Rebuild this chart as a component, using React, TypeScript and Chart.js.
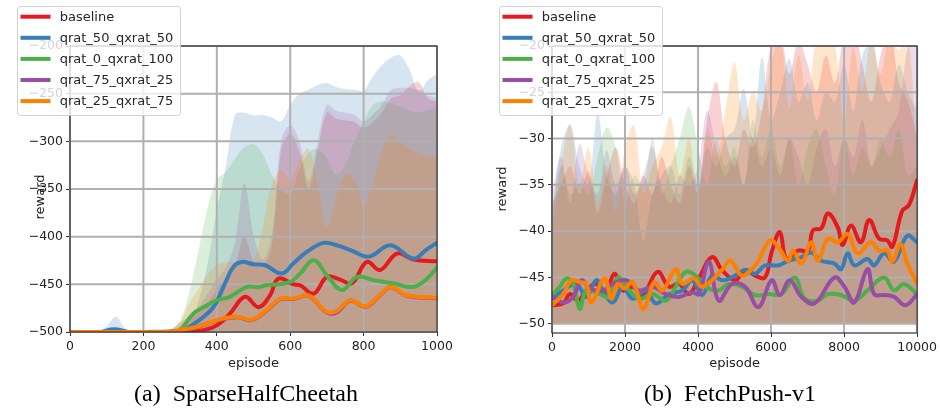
import React, { useEffect, useRef } from 'react';
import { Chart, registerables } from 'chart.js';
Chart.register(...registerables);

// ---------- shared ----------
const SERIES_NAMES = ['baseline', 'qrat_50_qxrat_50', 'qrat_0_qxrat_100', 'qrat_75_qxrat_25', 'qrat_25_qxrat_75'];
const COLORS = ['#e41a1c', '#377eb8', '#4daf4a', '#984ea3', '#ff7f00'];
const BAND_RGB = ['228,26,28', '55,126,184', '77,175,74', '152,78,163', '255,127,0'];

// ---------- (a) SparseHalfCheetah ----------
const A_X_TICKS = [0, 200, 400, 600, 800, 1000];
const A_Y_TICKS = [-500, -450, -400, -350, -300, -250, -200];

const A_BASELINE_X = [0, 100, 200, 300, 364, 400, 436, 477, 514, 545, 568, 609, 627, 664, 700, 736, 768, 809, 845, 891, 936, 1000];
const A_BASELINE_Y = [-500, -500, -500, -500, -498, -493, -480.7, -463, -474, -461.5, -444, -450, -451, -459.7, -442.2, -445, -449, -426.5, -435, -417.7, -424, -425.8];
const A_Q50_X = [0, 80, 120, 160, 200, 300, 345, 391, 418, 445, 468, 500, 532, 577, 609, 645, 691, 727, 764, 814, 873, 936, 973, 1000];
const A_Q50_Y = [-500, -500, -497, -500, -500, -499, -489.5, -473.7, -452.7, -431.7, -426.5, -429, -430, -438.7, -428, -416, -406.5, -409, -414, -421, -409, -423, -413, -406.5];
const A_Q0_X = [0, 100, 200, 282, 300, 336, 364, 400, 436, 482, 509, 536, 600, 627, 664, 700, 741, 782, 827, 882, 936, 973, 1000];
const A_Q0_Y = [-500, -500, -500, -500, -498, -480.7, -474, -466.7, -463, -452.7, -453, -451, -447.5, -438.7, -424.7, -440.5, -456, -442.2, -445.7, -449, -452.7, -444, -432.4];
const A_Q75_X = [0, 100, 200, 273, 300, 345, 400, 427, 459, 495, 536, 573, 609, 650, 700, 727, 764, 805, 845, 873, 918, 1000];
const A_Q75_Y = [-500, -500, -500, -500, -499, -495, -488, -485.5, -484.5, -487.5, -477.5, -465.5, -465.5, -462, -479.5, -479.5, -467, -473.5, -461.5, -453, -462, -464.5];
const A_Q25_X = [0, 100, 200, 273, 300, 345, 400, 427, 459, 495, 536, 573, 609, 650, 700, 727, 764, 805, 845, 873, 918, 1000];
const A_Q25_Y = [-500, -500, -500, -500, -498, -494.7, -487.7, -485, -484.2, -487, -477, -465, -465, -461.5, -479, -478, -466.7, -473, -461, -452.7, -461.5, -464];

const A_BAND_X = [0, 25, 50, 75, 100, 125, 150, 175, 200, 225, 250, 275, 300, 325, 350, 375, 400, 425, 450, 475, 500, 525, 550, 575, 600, 625, 650, 675, 700, 725, 750, 775, 800, 825, 850, 875, 900, 925, 950, 975, 1000];
const A_BASELINE_UP = [-500, -500, -500, -500, -500, -500, -500, -500, -500, -500, -500, -497, -490, -484, -480, -470, -455, -445, -430, -400, -425, -430, -410, -310, -292, -310, -350, -310, -270, -276, -278, -280, -286, -280, -270, -255, -252, -242, -238, -255, -258];
const A_Q50_UP = [-500, -500, -500, -500, -494, -484, -496, -500, -500, -500, -500, -500, -498, -490, -468, -428, -372, -325, -272, -270, -273, -272, -275, -279, -262, -250, -246, -241, -239, -243, -245, -246, -247, -232, -220, -212, -210, -225, -248, -236, -229];
const A_Q0_UP = [-500, -500, -500, -500, -500, -500, -500, -500, -500, -500, -500, -498, -488, -458, -415, -370, -340, -332, -318, -306, -303, -313, -335, -350, -355, -330, -312, -308, -318, -335, -325, -300, -280, -262, -258, -260, -264, -268, -270, -267, -265];
const A_Q75_UP = [-500, -500, -500, -500, -500, -500, -500, -500, -500, -500, -500, -499, -494, -486, -474, -460, -445, -432, -405, -344, -398, -424, -398, -300, -283, -300, -342, -300, -262, -268, -270, -272, -279, -272, -262, -246, -244, -244, -246, -252, -254];
const A_Q25_UP = [-500, -500, -500, -500, -500, -500, -500, -500, -500, -500, -500, -498, -490, -470, -455, -440, -430, -427, -427, -428, -425, -390, -345, -330, -340, -320, -308, -345, -390, -360, -335, -340, -365, -345, -310, -293, -300, -308, -312, -315, -316];

// ---------- (b) FetchPush-v1 ----------
const B_X_TICKS = [0, 2000, 4000, 6000, 8000, 10000];
const B_Y_TICKS = [-50, -45, -40, -35, -30, -25, -20];

const B_BASELINE_X = [0, 308, 489, 716, 942, 1214, 1440, 1712, 1938, 2210, 2482, 2890, 3206, 3478, 3750, 4022, 4384, 4656, 5018, 5290, 5562, 5833, 6015, 6241, 6422, 6739, 7011, 7147, 7373, 7555, 7827, 7962, 8188, 8460, 8687, 8958, 9185, 9321, 9593, 9774, 10000];
const B_BASELINE_Y = [-48.0, -47.8, -46.8, -47.5, -46.4, -45.7, -46.9, -44.6, -46.4, -46.0, -46.9, -44.4, -46.0, -45.7, -46.8, -45.1, -42.8, -44.2, -45.3, -44.2, -44.8, -45.0, -42.3, -40.1, -43.0, -42.1, -42.1, -39.9, -39.7, -38.1, -39.6, -41.5, -39.4, -41.2, -38.8, -40.8, -41.0, -41.7, -37.8, -37.2, -34.5];
const B_Q50_X = [0, 308, 670, 942, 1214, 1395, 1667, 1938, 2210, 2572, 2844, 3206, 3569, 3841, 4112, 4384, 4656, 4928, 5290, 5562, 5833, 6196, 6467, 6830, 7102, 7373, 7736, 7917, 8098, 8279, 8641, 8822, 9094, 9366, 9728, 10000];
const B_Q50_Y = [-47.3, -46.4, -45.7, -47.1, -45.3, -46.4, -47.7, -46.0, -47.3, -46.4, -47.8, -46.8, -46.4, -45.3, -46.9, -44.8, -45.3, -45.0, -44.2, -44.6, -43.7, -43.7, -43.2, -42.8, -42.3, -43.2, -43.5, -44.1, -42.4, -43.7, -43.0, -43.7, -42.4, -43.3, -40.5, -41.2];
const B_Q0_X = [0, 217, 399, 580, 761, 942, 1304, 1576, 1803, 2120, 2391, 2754, 3116, 3388, 3659, 3931, 4203, 4565, 4837, 5199, 5562, 5924, 6286, 6649, 6920, 7283, 7555, 7917, 8279, 8641, 9094, 9366, 9638, 10000];
const B_Q0_Y = [-46.9, -46.0, -45.1, -45.7, -48.4, -46.4, -46.8, -47.1, -45.0, -46.4, -47.3, -46.8, -47.5, -46.0, -44.4, -44.8, -46.0, -46.4, -45.7, -46.0, -46.9, -46.8, -46.8, -45.0, -47.3, -47.5, -46.8, -46.9, -47.5, -46.4, -45.0, -46.4, -45.7, -46.8];
const B_Q75_X = [0, 308, 580, 806, 1033, 1395, 1667, 2029, 2391, 2754, 3116, 3478, 3841, 4022, 4293, 4565, 4928, 5290, 5652, 6015, 6241, 6513, 6830, 7192, 7736, 8007, 8279, 8641, 8822, 9094, 9366, 9683, 10000];
const B_Q75_Y = [-47.1, -47.7, -47.1, -45.3, -46.2, -46.4, -45.7, -45.3, -46.4, -46.0, -46.8, -47.1, -46.6, -46.8, -43.3, -47.5, -45.7, -46.0, -48.2, -45.3, -46.9, -45.3, -47.1, -47.8, -45.0, -46.0, -47.7, -44.1, -46.8, -46.9, -47.1, -48.0, -46.8];
const B_Q25_X = [0, 308, 534, 761, 942, 1078, 1440, 1621, 1803, 1984, 2210, 2482, 2618, 2799, 3025, 3388, 3569, 3886, 4112, 4656, 4882, 5199, 5471, 5652, 5969, 6196, 6467, 6603, 6830, 7102, 7283, 7555, 7827, 8098, 8370, 8732, 8958, 9185, 9321, 9547, 9728, 10000];
const B_Q25_Y = [-48.0, -46.8, -45.3, -45.5, -45.7, -47.7, -45.1, -47.3, -45.7, -46.2, -45.5, -48.4, -47.5, -45.5, -46.4, -44.1, -45.7, -45.1, -46.0, -44.2, -43.2, -44.8, -44.1, -43.2, -41.0, -41.7, -43.2, -42.1, -43.5, -41.2, -43.2, -40.8, -41.2, -40.3, -42.4, -41.2, -42.1, -42.1, -43.3, -41.4, -43.5, -45.7];

const B_BAND_X = [0, 250, 500, 750, 1000, 1250, 1500, 1750, 2000, 2250, 2500, 2750, 3000, 3250, 3500, 3750, 4000, 4250, 4500, 4750, 5000, 5250, 5500, 5750, 6000, 6250, 6500, 6750, 7000, 7250, 7500, 7750, 8000, 8250, 8500, 8750, 9000, 9250, 9500, 9750, 10000];
const B_BASELINE_UP = [-37, -35, -33, -36, -33.5, -38, -34, -31, -35, -37, -34, -36, -32, -35, -37, -33, -36, -28, -23.9, -30, -33, -29, -31, -27, -20, -19, -23, -19.5, -22, -25, -21, -24, -19, -18, -22, -26, -21, -18, -24, -26, -30];
const B_Q50_UP = [-38, -31, -28.5, -33, -35, -27.3, -34, -36, -33, -35, -41, -36, -34, -33, -36, -32, -35, -31, -33, -30, -29, -24.6, -30, -21.2, -28, -25, -21.4, -26, -24, -28, -25, -26, -22, -27, -21, -19.5, -24, -26, -22, -25, -27];
const B_Q0_UP = [-39, -33, -36, -35, -36, -32, -28.8, -31, -37, -34, -35, -30, -36, -33, -30, -26.6, -31, -35, -30, -33, -31, -35, -28, -32, -29, -33, -30, -35, -31, -29, -33, -36, -30, -34, -31, -33, -30, -32, -29, -34, -33];
const B_Q75_UP = [-36, -32, -37, -30.6, -34, -36, -31.3, -35, -33, -36, -34, -30.9, -35, -37, -34, -35, -33, -27, -31, -34, -32, -35, -30, -33, -31, -34, -30, -32, -35, -31, -29, -33, -30, -32, -28, -33, -31, -29, -27, -20, -19];
const B_Q25_UP = [-40, -33, -28.5, -35, -31, -37, -33, -38, -31, -28.6, -36, -33, -31, -27.7, -34, -30, -36, -29, -32, -27, -21.8, -28, -25, -27, -22, -19, -26.6, -21, -25.9, -19, -18, -20, -28, -20, -24.8, -19, -23, -19, -20.5, -19, -33];

const FONT = '"DejaVu Sans", sans-serif';
const fmt = (v: number) => (v < 0 ? '\u2212' + Math.abs(v) : String(v));
const zip = (xs: number[], ys: number[]) => xs.map((x, i) => ({ x, y: ys[i] }));

interface PanelCfg {
  meanX: number[][];
  meanY: number[][];
  bandX: number[];
  bandUp: number[][];
  lower: number;
  xMin: number; xMax: number; xStep: number;
  yMin: number; yMax: number; yStep: number;
  padRight: number;
  yAxisW: number;
  xAxisH: number;
  legendX: number;
  rewardX: number;
  rewardY: number;
}

function makeConfig(c: PanelCfg): any {
  const datasets: any[] = [];
  for (let i = 0; i < 5; i++) {
    datasets.push({
      data: zip(c.bandX, c.bandUp[i]),
      fill: { value: c.lower },
      backgroundColor: `rgba(${BAND_RGB[i]},0.2)`,
      borderColor: 'rgba(0,0,0,0)',
      borderWidth: 0,
      pointRadius: 0,
      tension: 0.35,
      order: 20 - i,
    });
  }
  for (let i = 0; i < 5; i++) {
    datasets.push({
      label: SERIES_NAMES[i],
      data: zip(c.meanX[i], c.meanY[i]),
      fill: false,
      borderColor: COLORS[i],
      borderWidth: 4,
      pointRadius: 0,
      tension: 0.4,
      borderCapStyle: 'round',
      borderJoinStyle: 'round',
      order: 5 - i,
      gridBefore: i === 0,
    });
  }

  const plugin = {
    id: 'mplStyle',
    beforeDatasetDraw(chart: any, args: any) {
      const ds = chart.data.datasets[args.index];
      if (!ds || !ds.gridBefore) return;
      const { ctx, chartArea: a, scales } = chart;
      ctx.save();
      ctx.strokeStyle = '#b0b0b0';
      ctx.lineWidth = 2;
      ctx.beginPath();
      for (const t of scales.x.ticks) {
        const px = scales.x.getPixelForValue(t.value);
        ctx.moveTo(px, a.top);
        ctx.lineTo(px, a.bottom);
      }
      for (const t of scales.y.ticks) {
        const py = scales.y.getPixelForValue(t.value);
        ctx.moveTo(a.left, py);
        ctx.lineTo(a.right, py);
      }
      ctx.stroke();
      ctx.restore();
    },
    afterDraw(chart: any) {
      const { ctx, chartArea: a } = chart;
      ctx.save();
      // spines
      ctx.strokeStyle = '#333333';
      ctx.lineWidth = 1.2;
      ctx.strokeRect(a.left, a.top, a.right - a.left, a.bottom - a.top);
      // axis titles
      ctx.fillStyle = '#222222';
      ctx.font = `13px ${FONT}`;
      ctx.textAlign = 'center';
      ctx.textBaseline = 'alphabetic';
      ctx.fillText('episode', (a.left + a.right) / 2, 367);
      ctx.save();
      ctx.translate(c.rewardX, c.rewardY);
      ctx.rotate(-Math.PI / 2);
      ctx.textBaseline = 'middle';
      ctx.fillText('reward', 0, 0);
      ctx.restore();
      // legend
      const lx = c.legendX, ly = 6, lw = 163, lh = 109;
      ctx.fillStyle = 'rgba(255,255,255,0.8)';
      ctx.strokeStyle = 'rgba(204,204,204,0.9)';
      ctx.lineWidth = 1;
      ctx.beginPath();
      (ctx as any).roundRect(lx + 0.5, ly + 0.5, lw, lh, 3);
      ctx.fill();
      ctx.stroke();
      ctx.font = `13px ${FONT}`;
      ctx.textAlign = 'left';
      ctx.textBaseline = 'middle';
      for (let i = 0; i < 5; i++) {
        const y = ly + 10.7 + i * 21.1;
        ctx.strokeStyle = COLORS[i];
        ctx.lineWidth = 4;
        ctx.beginPath();
        ctx.moveTo(lx + 3.5, y);
        ctx.lineTo(lx + 33.5, y);
        ctx.stroke();
        ctx.fillStyle = '#262626';
        ctx.fillText(SERIES_NAMES[i], lx + 42.7, y + 0.5);
      }
      ctx.restore();
    },
  };

  const tickFont = { family: FONT, size: 12.5 };
  return {
    type: 'line',
    data: { datasets },
    plugins: [plugin],
    options: {
      animation: false,
      responsive: false,
      maintainAspectRatio: false,
      layout: { padding: { top: 46, left: 0, right: c.padRight, bottom: 0 } },
      plugins: { legend: { display: false }, tooltip: { enabled: false } },
      scales: {
        x: {
          type: 'linear',
          min: c.xMin,
          max: c.xMax,
          ticks: { stepSize: c.xStep, callback: (v: number) => fmt(v), font: tickFont, color: '#222', padding: 3, maxRotation: 0, autoSkip: false, includeBounds: false },
          grid: { drawOnChartArea: false, drawTicks: true, tickLength: 4, tickColor: '#333', tickWidth: 1 },
          border: { display: false },
          afterFit: (s: any) => { s.height = c.xAxisH; },
        },
        y: {
          type: 'linear',
          min: c.yMin,
          max: c.yMax,
          ticks: { stepSize: c.yStep, callback: (v: number) => fmt(v), font: tickFont, color: '#222', padding: 3, autoSkip: false, includeBounds: false },
          grid: { drawOnChartArea: false, drawTicks: true, tickLength: 4, tickColor: '#333', tickWidth: 1 },
          border: { display: false },
          afterFit: (s: any) => { s.width = c.yAxisW; },
        },
      },
    },
  };
}

function Panel({ cfg, left }: { cfg: PanelCfg; left: number }) {
  const ref = useRef<HTMLCanvasElement>(null);
  useEffect(() => {
    const chart = new Chart(ref.current as HTMLCanvasElement, makeConfig(cfg));
    return () => chart.destroy();
  }, []);
  return (
    <canvas
      ref={ref}
      width={470}
      height={380}
      style={{ position: 'absolute', left, top: 0, width: 470, height: 380 }}
    />
  );
}

const PANEL_A: PanelCfg = {
  meanX: [A_BASELINE_X, A_Q50_X, A_Q0_X, A_Q75_X, A_Q25_X],
  meanY: [A_BASELINE_Y, A_Q50_Y, A_Q0_Y, A_Q75_Y, A_Q25_Y],
  bandX: A_BAND_X,
  bandUp: [A_BASELINE_UP, A_Q50_UP, A_Q0_UP, A_Q75_UP, A_Q25_UP],
  lower: -500,
  xMin: A_X_TICKS[0], xMax: A_X_TICKS[A_X_TICKS.length - 1], xStep: 200,
  yMin: A_Y_TICKS[0], yMax: A_Y_TICKS[A_Y_TICKS.length - 1], yStep: 50,
  padRight: 33,
  yAxisW: 70,
  xAxisH: 48,
  legendX: 17,
  rewardX: 41,
  rewardY: 197,
};

const PANEL_B: PanelCfg = {
  meanX: [B_BASELINE_X, B_Q50_X, B_Q0_X, B_Q75_X, B_Q25_X],
  meanY: [B_BASELINE_Y, B_Q50_Y, B_Q0_Y, B_Q75_Y, B_Q25_Y],
  bandX: B_BAND_X,
  bandUp: [B_BASELINE_UP, B_Q50_UP, B_Q0_UP, B_Q75_UP, B_Q25_UP],
  lower: -50,
  xMin: B_X_TICKS[0], xMax: B_X_TICKS[B_X_TICKS.length - 1], xStep: 2000,
  yMin: -51, yMax: B_Y_TICKS[B_Y_TICKS.length - 1], yStep: 5,
  padRight: 20,
  yAxisW: 82,
  xAxisH: 47,
  legendX: 29,
  rewardX: 33,
  rewardY: 189,
};

export default function App() {
  const cap: React.CSSProperties = {
    position: 'absolute',
    top: 379,
    fontFamily: '"Liberation Serif", "Times New Roman", serif',
    fontSize: 24,
    color: '#000',
    whiteSpace: 'pre',
    transform: 'translateX(-50%)',
    lineHeight: '28px',
  };
  return (
    <div style={{ position: 'fixed', left: 0, top: 0, width: 940, height: 417, background: '#fff', overflow: 'hidden' }}>
      <Panel cfg={PANEL_A} left={0} />
      <Panel cfg={PANEL_B} left={470} />
      <div style={{ ...cap, left: 246 }}>(a)  SparseHalfCheetah</div>
      <div style={{ ...cap, left: 730 }}>(b)  FetchPush-v1</div>
    </div>
  );
}
